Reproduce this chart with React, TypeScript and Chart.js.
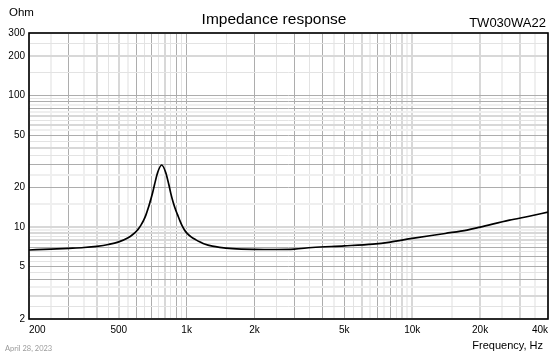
import { useEffect, useRef } from 'react';
import { Chart, registerables } from 'chart.js';

Chart.register(...registerables);

// Measured impedance curve
const FREQ_HZ = [
  200, 250, 300, 350, 400, 450, 500, 550, 575, 600, 615, 630, 645, 660, 675, 690, 705, 720, 745, 775,
  806, 834, 851, 870, 890, 910, 935, 953, 975, 1000, 1050, 1100, 1150, 1200, 1300, 1400, 1600,
  2000, 2500, 3000, 3600, 5000, 6700, 8000, 10000, 14000, 17500, 20000, 27000, 33000, 40000,
];
const IMPEDANCE_OHM = [
  6.70, 6.80, 6.90, 7.00, 7.15, 7.38, 7.72, 8.30, 8.75, 9.35, 9.85, 10.5, 11.3, 12.4, 13.9, 15.8, 18.0, 21.0, 26.3, 29.7,
  26.3, 21.0, 18.0, 15.6, 13.8, 12.5, 11.1, 10.3, 9.6, 9.05, 8.4, 8.0, 7.7, 7.45, 7.17, 7.02, 6.87,
  6.78, 6.76, 6.80, 7.00, 7.20, 7.43, 7.70, 8.20, 8.95, 9.50, 10.0, 11.3, 12.1, 13.0,
];

// Axis tick labels
const X_TICK_VALUES = [200, 500, 1000, 2000, 5000, 10000, 20000, 40000];
const X_TICK_LABELS = ['200', '500', '1k', '2k', '5k', '10k', '20k', '40k'];
const Y_TICK_VALUES = [2, 5, 10, 20, 50, 100, 200, 300];
const Y_TICK_LABELS = ['2', '5', '10', '20', '50', '100', '200', '300'];

// Grid lines
const X_GRID_MAJOR = [
  200, 300, 400, 500, 600, 700, 800, 900, 1000, 2000, 3000, 4000, 5000, 6000, 7000, 8000,
  9000, 10000, 20000, 30000, 40000,
];
const X_GRID_MINOR = [
  250, 350, 450, 550, 650, 750, 850, 950, 1500, 2500, 3500, 4500, 5500, 6500, 7500, 8500,
  9500, 15000, 25000, 35000,
];
const Y_GRID_MAJOR = [
  2, 3, 4, 5, 6, 7, 8, 9, 10, 20, 30, 40, 50, 60, 70, 80, 90, 100, 200, 300,
];
const Y_GRID_MINOR = [
  2.5, 3.5, 4.5, 5.5, 6.5, 7.5, 8.5, 9.5, 15, 25, 35, 45, 55, 65, 75, 85, 95, 150, 250,
];

const TITLE = 'Impedance response';
const Y_UNIT = 'Ohm';
const MODEL = 'TW030WA22';
const X_TITLE = 'Frequency, Hz';
const DATE = 'April 28, 2023';

const FONT = '"Liberation Sans", Arial, sans-serif';

function isCrisp(ctx: any): boolean {
  const s = ctx.scale;
  const v = ctx.tick ? ctx.tick.value : 0;
  const px = s.getPixelForValue(v);
  const f = px - Math.floor(px);
  return f >= 0.25 && f < 0.75;
}

function gridColor(major: number[]) {
  return (ctx: any) => {
    const v = ctx.tick ? ctx.tick.value : 0;
    const crisp = isCrisp(ctx);
    if (major.includes(v)) return crisp ? '#adadad' : '#d8d8d8';
    return crisp ? '#e3e3e3' : '#efefef';
  };
}

function gridWidth() {
  return (ctx: any) => (isCrisp(ctx) ? 1 : 2);
}

const decorPlugin = {
  id: 'decor',
  afterDraw(chart: any) {
    const { ctx, chartArea } = chart;
    ctx.save();
    ctx.strokeStyle = '#000';
    ctx.lineWidth = 1.6;
    ctx.strokeRect(
      chartArea.left,
      chartArea.top,
      chartArea.right - chartArea.left,
      chartArea.bottom - chartArea.top,
    );
    ctx.fillStyle = '#000';
    ctx.textBaseline = 'middle';
    ctx.textAlign = 'left';
    ctx.font = `11.5px ${FONT}`;
    ctx.fillText(Y_UNIT, 9, 13);
    ctx.textAlign = 'right';
    ctx.font = `13px ${FONT}`;
    ctx.fillText(MODEL, 546, 23.5);
    ctx.font = `11px ${FONT}`;
    ctx.fillText(X_TITLE, 543, 346);
    ctx.textAlign = 'left';
    ctx.fillStyle = '#9a9a9a';
    ctx.font = '7.5px Lato, sans-serif';
    ctx.fillText(DATE, 5, 349);
    ctx.restore();
  },
};

export default function App() {
  const canvasRef = useRef<HTMLCanvasElement | null>(null);

  useEffect(() => {
    if (!canvasRef.current) return;
    const chart = new Chart(canvasRef.current, {
      type: 'line',
      data: {
        datasets: [
          {
            data: FREQ_HZ.map((f, i) => ({ x: f, y: IMPEDANCE_OHM[i] })),
            borderColor: '#000',
            borderWidth: 1.7,
            pointRadius: 0,
            fill: false,
            cubicInterpolationMode: 'monotone',
          },
        ],
      },
      options: {
        responsive: false,
        animation: false,
        events: [],
        layout: { padding: { left: 0, right: 12, top: 0, bottom: 0 } },
        plugins: {
          legend: { display: false },
          tooltip: { enabled: false },
          title: {
            display: true,
            text: TITLE,
            color: '#000',
            font: { family: FONT, size: 15.5, weight: 'normal', lineHeight: 1.2 },
            padding: { top: 10, bottom: 4.4 },
          },
        },
        scales: {
          x: {
            type: 'logarithmic',
            min: 200,
            max: 40000,
            afterBuildTicks: (s: any) => {
              s.ticks = [...X_GRID_MAJOR, ...X_GRID_MINOR]
                .sort((a, b) => a - b)
                .map((v) => ({ value: v }));
            },
            afterFit: (s: any) => {
              s.height = 37;
            },
            ticks: {
              autoSkip: false,
              maxRotation: 0,
              minRotation: 0,
              align: 'inner',
              padding: 5,
              color: '#000',
              font: { family: FONT, size: 10 },
              callback: (v: any) => {
                const i = X_TICK_VALUES.indexOf(Number(v));
                return i >= 0 ? X_TICK_LABELS[i] : '';
              },
            },
            grid: {
              drawTicks: false,
              color: gridColor(X_GRID_MAJOR),
              lineWidth: gridWidth(),
            },
            border: { display: false },
          },
          y: {
            type: 'logarithmic',
            min: 2,
            max: 300,
            afterBuildTicks: (s: any) => {
              s.ticks = [...Y_GRID_MAJOR, ...Y_GRID_MINOR]
                .sort((a, b) => a - b)
                .map((v) => ({ value: v }));
            },
            afterFit: (s: any) => {
              s.width = 29;
            },
            ticks: {
              autoSkip: false,
              padding: 4,
              color: '#000',
              font: { family: FONT, size: 10 },
              callback: (v: any) => {
                const i = Y_TICK_VALUES.indexOf(Number(v));
                return i >= 0 ? Y_TICK_LABELS[i] : '';
              },
            },
            grid: {
              drawTicks: false,
              color: gridColor(Y_GRID_MAJOR),
              lineWidth: gridWidth(),
            },
            border: { display: false },
          },
        },
      } as any,
      plugins: [decorPlugin],
    });
    return () => chart.destroy();
  }, []);

  return (
    <div
      style={{
        position: 'absolute',
        left: 0,
        top: 0,
        width: 560,
        height: 356,
        background: '#fff',
      }}
    >
      <canvas ref={canvasRef} width={560} height={356} style={{ width: 560, height: 356 }} />
    </div>
  );
}
